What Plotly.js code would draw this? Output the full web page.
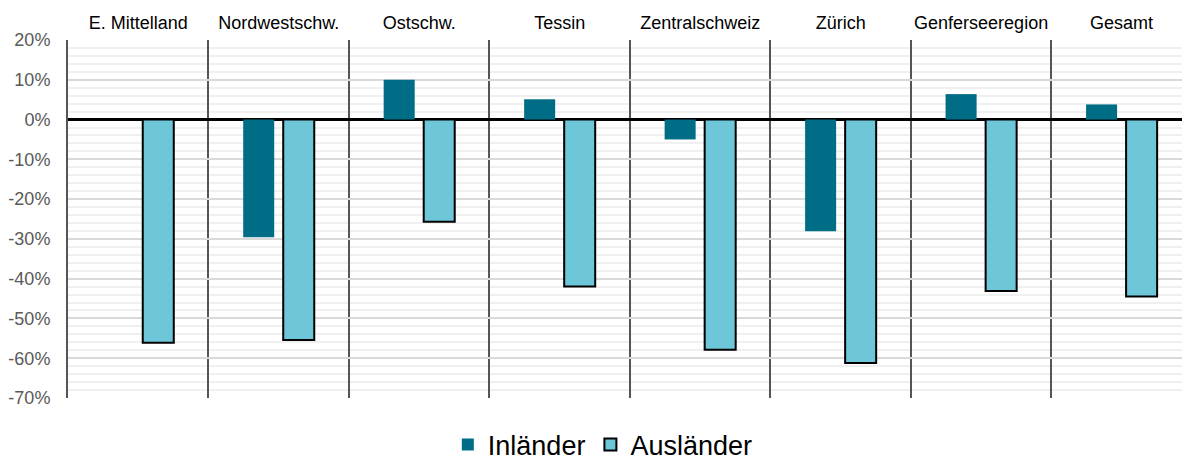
<!DOCTYPE html>
<html>
<head>
<meta charset="utf-8">
<script src="https://cdn.plot.ly/plotly-3.0.1.min.js"></script>
<style>html,body{margin:0;padding:0;background:#fff;}#chart{width:1182px;height:461px;}</style>
</head>
<body>
<div id="chart"></div>
<script>
const regions = ["E. Mittelland", "Nordwestschw.", "Ostschw.", "Tessin", "Zentralschweiz", "Zürich", "Genferseeregion", "Gesamt"];
const inlaender = [null, -0.296, 0.100, 0.051, -0.050, -0.281, 0.064, 0.038];
const auslaender = [-0.561, -0.554, -0.257, -0.420, -0.579, -0.612, -0.431, -0.445];
const yTickVals = [0.2, 0.1, 0, -0.1, -0.2, -0.3, -0.4, -0.5, -0.6, -0.7];
const yTickText = ["20%", "10%", "0%", "-10%", "-20%", "-30%", "-40%", "-50%", "-60%", "-70%"];

const traces = [
  {type: "bar", name: "Inländer", x: regions, y: inlaender,
   marker: {color: "#006D87", line: {width: 0}}, hoverinfo: "skip"},
  {type: "bar", name: "Ausländer", x: regions, y: auslaender,
   marker: {color: "#6EC6D9", line: {color: "#000000", width: 2}}, hoverinfo: "skip"}
];

const layout = {
  width: 1182, height: 461,
  margin: {l: 68, r: 0, t: 40, b: 63},
  paper_bgcolor: "#ffffff", plot_bgcolor: "#ffffff",
  font: {family: "Liberation Sans, Arial, sans-serif", color: "#000"},
  barmode: "group", bargap: 0.43, bargroupgap: 0.225,
  showlegend: true,
  legend: {orientation: "h", x: 0.51, xanchor: "center", xref: "container",
           y: 0.035, yanchor: "middle", yref: "container",
           font: {size: 27, color: "#000"}, itemwidth: 30, traceorder: "normal"},
  xaxis: {side: "top", type: "category", range: [-0.5, 7.43],
          tickson: "boundaries", showgrid: true, gridcolor: "#555555", gridwidth: 2,
          ticks: "", ticklen: 0, tickangle: 0, ticklabelstandoff: 6,
          tickfont: {size: 18, color: "#000"},
          zeroline: false, showline: false, fixedrange: true},
  yaxis: {range: [-0.7, 0.2], tickvals: yTickVals, ticktext: yTickText,
          tickfont: {size: 18, color: "#595959"}, ticks: "", ticklabelstandoff: 12,
          showgrid: true, gridcolor: "#d9d9d9", gridwidth: 2,
          minor: {dtick: 0.02, showgrid: true, gridcolor: "#f0f0f0", gridwidth: 2},
          zeroline: true, zerolinecolor: "#000000", zerolinewidth: 3,
          showline: true, linecolor: "#555555", linewidth: 2, fixedrange: true}
};

Plotly.newPlot("chart", traces, layout, {displayModeBar: false, staticPlot: true});
</script>
</body>
</html>
